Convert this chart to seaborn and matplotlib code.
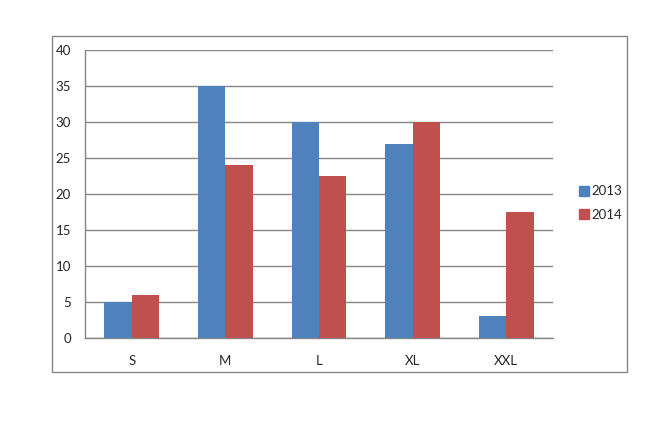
import matplotlib
matplotlib.use("Agg")
import matplotlib.pyplot as plt
from matplotlib.patches import Rectangle
import seaborn as sns
import pandas as pd

categories = ["S", "M", "L", "XL", "XXL"]
values_2013 = [5, 35, 30, 27, 3]
values_2014 = [6, 24, 22.5, 30, 17.5]
series_names = ["2013", "2014"]
y_ticks = [0, 5, 10, 15, 20, 25, 30, 35, 40]

df = pd.DataFrame({
    "size": categories * 2,
    "value": values_2013 + values_2014,
    "year": [series_names[0]] * len(categories) + [series_names[1]] * len(categories),
})

sns.set_style("white")
plt.rcParams["font.family"] = ["Lato", "DejaVu Sans"]

fig = plt.figure(figsize=(6.6, 4.28), dpi=100)
ax = fig.add_axes([85 / 660, 1 - 338 / 428, 468 / 660, 288 / 428])

colors = ["#4F81BD", "#C0504D"]
sns.barplot(data=df, x="size", y="value", hue="year", palette=colors,
            width=0.585, ax=ax, saturation=1, legend=False, zorder=3,
            linewidth=0, edgecolor="none")

grid_c = "#868686"
ax.set_ylim(0, 40)
ax.set_xlim(-0.5, len(categories) - 0.5)
ax.set_yticks(y_ticks)
ax.yaxis.grid(True, color=grid_c, linewidth=1, zorder=0)
ax.set_axisbelow(True)
for s in ["top", "right"]:
    ax.spines[s].set_visible(False)
for s in ["left", "bottom"]:
    ax.spines[s].set_color(grid_c)
    ax.spines[s].set_linewidth(1)
ax.set_xlabel("")
ax.set_ylabel("")
ax.tick_params(axis="y", length=5, color=grid_c, width=1, pad=5, labelsize=9.5)
ax.tick_params(axis="x", which="major", length=0, pad=12, labelsize=9.5)
ax.set_xticks([i + 0.5 for i in range(-1, len(categories))], minor=True)
ax.tick_params(axis="x", which="minor", length=5, color=grid_c, width=1)

handles = [plt.Line2D([], [], marker="s", linestyle="", markersize=7,
                      markerfacecolor=c, markeredgecolor=c) for c in colors]
fig.legend(handles, series_names, loc="center left",
           bbox_to_anchor=(566 / 660, 1 - 203 / 428), frameon=False,
           fontsize=9.5, handletextpad=0.0, labelspacing=0.85, handlelength=1.0)

fig.patches.append(Rectangle((52 / 660, 1 - 372 / 428), 575 / 660, 336 / 428,
                             transform=fig.transFigure, fill=False,
                             edgecolor=grid_c, linewidth=1))

fig.savefig("out.png", dpi=100)
